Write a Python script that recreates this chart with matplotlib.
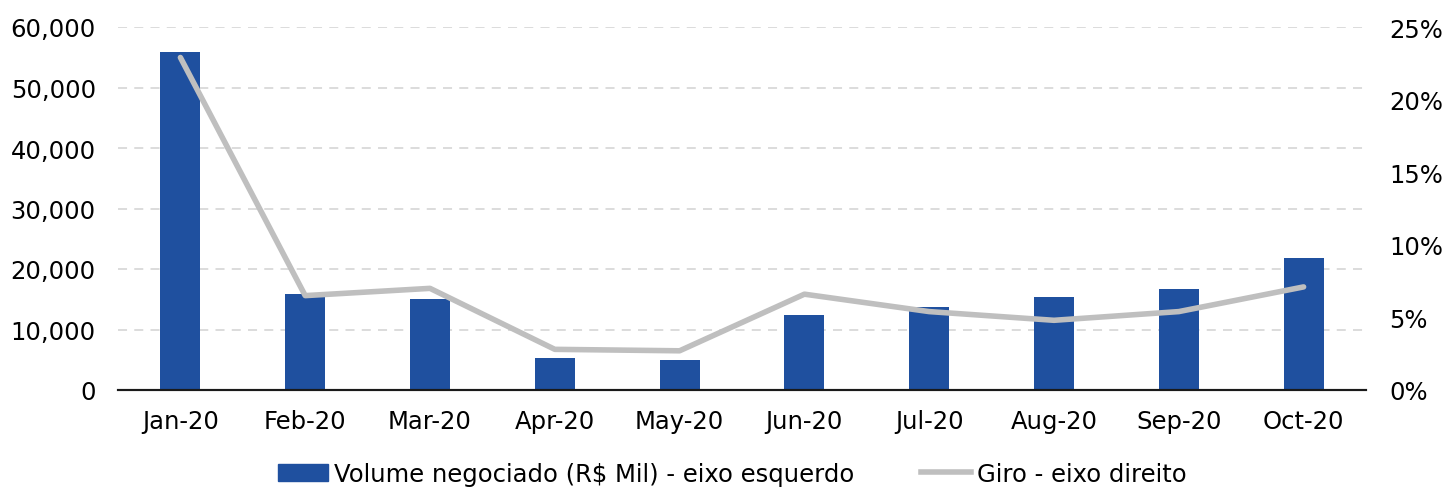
import numpy as np
import matplotlib.pyplot as plt
from matplotlib.ticker import FuncFormatter, MultipleLocator
from matplotlib.lines import Line2D
from matplotlib.patches import Patch

months = ["Jan-20", "Feb-20", "Mar-20", "Apr-20", "May-20",
          "Jun-20", "Jul-20", "Aug-20", "Sep-20", "Oct-20"]
volume = [55800, 15900, 15000, 5300, 5000, 12400, 13700, 15300, 16700, 21800]
giro = [22.9, 6.5, 7.0, 2.8, 2.7, 6.6, 5.4, 4.8, 5.4, 7.1]

bar_color = "#1F509F"
line_color = "#BFBFBF"

plt.rcParams["font.family"] = ["DejaVu Sans"]

fig = plt.figure(figsize=(14.48, 4.89), dpi=100)
ax = fig.add_axes([118 / 1448, 1 - 391 / 489, 1248 / 1448, 363 / 489])
ax2 = ax.twinx()

x = np.arange(len(months))
ax.bar(x, volume, width=0.32, color=bar_color, zorder=2)
ax2.plot(x, giro, color=line_color, lw=4, solid_capstyle="round", zorder=3)

ax.set_xlim(-0.5, len(months) - 0.5)
ax.set_ylim(0, 60000)
ax2.set_ylim(0, 25)
ax.yaxis.set_major_locator(MultipleLocator(10000))
ax2.yaxis.set_major_locator(MultipleLocator(5))
ax.yaxis.set_major_formatter(FuncFormatter(lambda v, _: f"{v:,.0f}"))
ax2.yaxis.set_major_formatter(FuncFormatter(lambda v, _: f"{v:.0f}%"))

ax.set_xticks(x)
ax.set_xticklabels(months)

ax.grid(True, axis="y", color="#D9D9D9", linestyle=(0, (5, 4)), lw=1.3, zorder=0)
ax.set_axisbelow(True)

for a in (ax, ax2):
    for s in ("top", "left", "right"):
        a.spines[s].set_visible(False)
    a.spines["bottom"].set_color("#1A1A1A")
    a.spines["bottom"].set_linewidth(1.5)
    a.tick_params(axis="both", length=0, labelsize=17.5, colors="#000000")
ax.tick_params(axis="x", pad=14)
ax.tick_params(axis="y", pad=16)
ax2.tick_params(axis="y", pad=17)

ax.set_zorder(ax2.get_zorder() - 1)
ax.patch.set_visible(False)

handles = [
    Patch(color=bar_color, label="Volume negociado (R$ Mil) - eixo esquerdo"),
    Line2D([0], [0], color=line_color, lw=4, label="Giro - eixo direito"),
]
fig.legend(handles=handles, loc="center left", bbox_to_anchor=(266 / 1448, 1 - 475 / 489),
           ncol=2, frameon=False, fontsize=17.5, handlelength=2.05,
           handletextpad=0.25, columnspacing=2.75, borderpad=0)

fig.savefig("out.png", dpi=100)
